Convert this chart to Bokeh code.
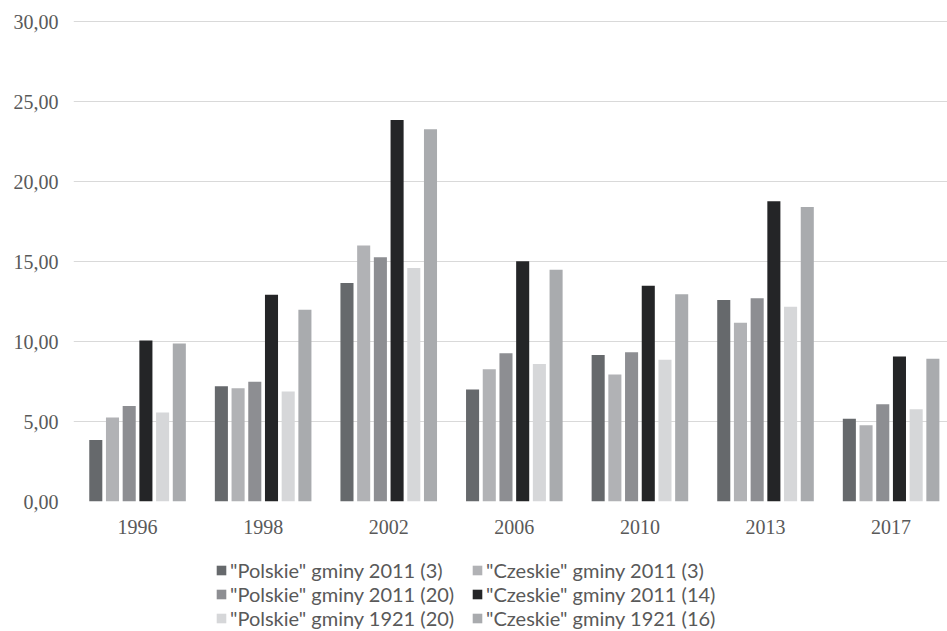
from bokeh.plotting import figure
from bokeh.models import ColumnDataSource, Range1d, FixedTicker, Legend, LegendItem
from bokeh.layouts import column
from bokeh.transform import dodge
from bokeh.embed import file_html
from bokeh.resources import INLINE

years = ["1996", "1998", "2002", "2006", "2010", "2013", "2017"]
series_names = [
    '"Polskie" gminy 2011 (3)',
    '"Czeskie" gminy 2011 (3)',
    '"Polskie" gminy 2011 (20)',
    '"Czeskie" gminy 2011 (14)',
    '"Polskie" gminy 1921 (20)',
    '"Czeskie" gminy 1921 (16)',
]
polskie_2011_3 = [3.85, 7.20, 13.65, 7.00, 9.15, 12.60, 5.17]
czeskie_2011_3 = [5.25, 7.08, 16.00, 8.27, 7.94, 11.17, 4.77]
polskie_2011_20 = [5.97, 7.48, 15.27, 9.27, 9.33, 12.71, 6.08]
czeskie_2011_14 = [10.06, 12.92, 23.85, 15.02, 13.48, 18.77, 9.06]
polskie_1921_20 = [5.56, 6.88, 14.60, 8.60, 8.86, 12.17, 5.77]
czeskie_1921_16 = [9.88, 11.98, 23.27, 14.48, 12.96, 18.40, 8.92]
colors = ["#66696c", "#b1b2b5", "#8d8e92", "#242527", "#d6d7d9", "#a9abae"]
y_ticks = [0, 5, 10, 15, 20, 25, 30]
y_tick_labels = ["0,00", "5,00", "10,00", "15,00", "20,00", "25,00", "30,00"]

all_series = [polskie_2011_3, czeskie_2011_3, polskie_2011_20,
              czeskie_2011_14, polskie_1921_20, czeskie_1921_16]

centers = [i + 0.5 for i in range(len(years))]
data = {"x": centers}
for k, s in enumerate(all_series):
    data["s%d" % k] = s
source = ColumnDataSource(data)

p = figure(width=947, height=545, output_backend="svg", toolbar_location=None,
           x_range=Range1d(-0.01, 6.949), y_range=Range1d(0, 30.125),
           min_border_left=73, min_border_right=0, min_border_top=19,
           min_border_bottom=44)
p.outline_line_color = None
p.background_fill_color = "white"
p.border_fill_color = "white"

pitch = 0.133
for k in range(6):
    p.vbar(x=dodge("x", (k - 2.5) * pitch, range=p.x_range), top="s%d" % k,
           width=0.104, source=source, fill_color=colors[k], line_color=None)

# axes
p.xaxis.ticker = FixedTicker(ticks=centers)
p.xaxis.major_label_overrides = {c: y for c, y in zip(centers, years)}
p.yaxis.ticker = FixedTicker(ticks=y_ticks)
p.yaxis.major_label_overrides = {t: l for t, l in zip(y_ticks, y_tick_labels)}
for ax in (p.xaxis, p.yaxis):
    ax.axis_line_color = None
    ax.major_tick_line_color = None
    ax.minor_tick_line_color = None
    ax.major_tick_out = 0
    ax.major_tick_in = 0
    ax.major_label_text_font = "Liberation Serif"
    ax.major_label_text_font_size = "20px"
    ax.major_label_text_color = "#595959"
p.yaxis.major_label_standoff = 15
p.xaxis.major_label_standoff = 18

p.xgrid.grid_line_color = None
p.ygrid.grid_line_color = "#d9d9d9"
p.ygrid.grid_line_width = 1
p.ygrid.ticker = FixedTicker(ticks=y_ticks)

# legend panel (two columns)
lg = figure(width=947, height=86, output_backend="svg", toolbar_location=None,
            x_range=Range1d(0, 1), y_range=Range1d(0, 1),
            x_axis_location=None, y_axis_location=None,
            min_border_left=0, min_border_right=0, min_border_top=0,
            min_border_bottom=0)
lg.outline_line_color = None
lg.xgrid.visible = False
lg.ygrid.visible = False
swatches = [lg.vbar(x="x", top="s%d" % k, width=0.1, source=source,
                    fill_color=colors[k], line_color=None, visible=False)
            for k in range(6)]


def make_legend(idx, xpos):
    items = [LegendItem(label=series_names[k], renderers=[swatches[k]]) for k in idx]
    return Legend(items=items, orientation="vertical",
                  location=(xpos, 1), margin=0, padding=0,
                  border_line_color=None, background_fill_alpha=0,
                  inactive_fill_alpha=0,
                  glyph_width=12, glyph_height=12, label_standoff=3, spacing=-1,
                  label_text_font="Lato", label_text_font_size="20px",
                  label_text_color="#595959", label_height=20)


lg.add_layout(make_legend([0, 2, 4], 142), "center")
lg.add_layout(make_legend([1, 3, 5], 398), "center")

open("out.html", "w").write(file_html(column(p, lg, spacing=0), INLINE))
